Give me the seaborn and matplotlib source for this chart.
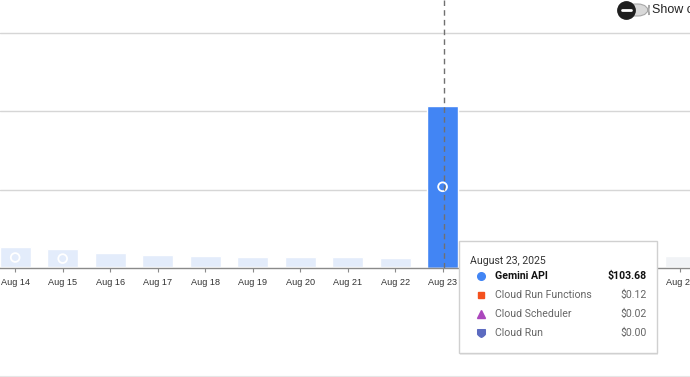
import matplotlib
matplotlib.use("Agg")
import matplotlib.pyplot as plt
import seaborn as sns
from matplotlib.patches import FancyBboxPatch
from matplotlib.path import Path

# data
dates = ['Aug 14', 'Aug 15', 'Aug 16', 'Aug 17', 'Aug 18', 'Aug 19', 'Aug 20',
         'Aug 21', 'Aug 22', 'Aug 23', 'Aug 24', 'Aug 25', 'Aug 26', 'Aug 27', 'Aug 28']
gemini = [13.4, 12.0, 9.6, 8.3, 7.7, 7.0, 7.0, 7.0, 6.4, 103.68, 7.0, 7.0, 7.0, 7.0, 7.7]
run_functions = [0.6] * 9 + [0.0] + [0.6] * 5
hover_days = ['Aug 14', 'Aug 15', 'Aug 23']
selected = 'Aug 23'

tip_title = 'August 23, 2025'
tip_services = ['Gemini API', 'Cloud Run Functions', 'Cloud Scheduler', 'Cloud Run']
tip_costs = ['$103.68', '$0.12', '$0.02', '$0.00']

sns.set_style("white")
plt.rcParams['font.family'] = ['Liberation Sans', 'DejaVu Sans']

W, H = 690, 377
fig = plt.figure(figsize=(W / 100, H / 100), dpi=100)
base_px = 268
ax = fig.add_axes([0, (H - base_px) / H, 1, base_px / H])

bar_colors = ['#4285f4' if d == selected else '#e3ecfb' for d in dates]
bar_colors[-1] = '#f1f3f6'
sns.barplot(x=dates, y=gemini, hue=dates, palette=bar_colors, legend=False,
            width=0.65, saturation=1, ax=ax, zorder=2)
fn_colors = ['#fbe3d3' if d != selected else '#4285f4' for d in dates]
sns.barplot(x=dates, y=run_functions, hue=dates, palette=fn_colors, legend=False,
            width=0.65, saturation=1, ax=ax, zorder=2)

ymax = 150 * base_px / (base_px - 33)
ax.set_ylim(0, ymax)
ax.set_xlim(-0.32, 14.21)
for g in [50, 100, 150]:
    ax.axhline(g, color='#d6d6d6', lw=1, zorder=0)

# hover circles at half height
for d in hover_days:
    i = dates.index(d)
    ax.scatter(i, gemini[i] / 2, s=40, facecolor='none', edgecolor='white',
               linewidth=1.3, zorder=4)

# crosshair
i_sel = dates.index(selected)
ax.axvline(i_sel + 0.04, color='#707070', lw=1, ls=(0, (4, 3)), zorder=5)

ax.set_yticks([])
ax.set_xlabel('')
ax.set_ylabel('')
for s in ['top', 'left', 'right']:
    ax.spines[s].set_visible(False)
ax.spines['bottom'].set_color('#8a8a8a')
ax.spines['bottom'].set_linewidth(1)
ax.tick_params(axis='x', bottom=True, length=3, color='#8a8a8a', labelsize=6.6,
               labelcolor='#333333', pad=4)

# bottom divider line
fig.add_artist(plt.Line2D([0, 1], [0.5 / H, 0.5 / H], color='#e6e6e6', lw=1.5))

# toggle "Show costs"
pill = FancyBboxPatch((624 / W, (H - 16) / H), 25 / W, 12 / H,
                      boxstyle='round,pad=0,rounding_size=0.016',
                      transform=fig.transFigure, facecolor='#d9d9d9',
                      edgecolor='#a8a8a8', lw=0.8, mutation_aspect=W / H)
fig.add_artist(pill)
fig.add_artist(plt.Line2D([626 / W], [(H - 10) / H], marker='o', ms=12.5,
                          color='#1e1e1e', transform=fig.transFigure))
fig.add_artist(plt.Line2D([621.5 / W, 630.5 / W], [(H - 10) / H] * 2,
                          color='white', lw=2, transform=fig.transFigure))
fig.text(652 / W, (H - 10) / H, 'Show costs', fontsize=9, color='#222222',
         va='center', ha='left', family=['Liberation Sans', 'DejaVu Sans'])

# tooltip
tx0, ty0, tw, th = 459, 241, 198, 112
shadow = FancyBboxPatch((tx0 / W + 0.001, (H - ty0 - th - 1.5) / H), tw / W, th / H,
                        boxstyle='square,pad=0', transform=fig.transFigure,
                        facecolor='#00000012', edgecolor='none', zorder=9)
fig.add_artist(shadow)
box = FancyBboxPatch((tx0 / W, (H - ty0 - th) / H), tw / W, th / H,
                     boxstyle='square,pad=0', transform=fig.transFigure,
                     facecolor='white', edgecolor='#d0d0d0', lw=1, zorder=10)
fig.add_artist(box)

tfont = ['Roboto', 'DejaVu Sans']
fig.text(470 / W, (H - 261) / H, tip_title, fontsize=7.6, color='#333333',
         va='center', family=tfont, zorder=11)

shield = Path([(-1, 1), (1, 1), (1, -0.2), (0.6, -0.8), (0, -1), (-0.6, -0.8),
               (-1, -0.2), (-1, 1)],
              [Path.MOVETO, Path.LINETO, Path.LINETO, Path.CURVE3, Path.CURVE3,
               Path.CURVE3, Path.CURVE3, Path.CLOSEPOLY])
markers = [('o', '#4285f4', 5.5), ('s', '#f4511e', 5), ('^', '#ab47bc', 6), (shield, '#5c6bc0', 5.5)]
row_y = [276, 295, 314, 333]
for k, (svc, cost) in enumerate(zip(tip_services, tip_costs)):
    yy = (H - row_y[k]) / H
    m, c, ms = markers[k]
    fig.add_artist(plt.Line2D([481 / W], [yy], marker=m, ms=ms, color=c, lw=0,
                              transform=fig.transFigure, zorder=11))
    bold = k == 0
    fig.text(495 / W, yy, svc, fontsize=7.6, family=tfont, va='center',
             color='#111111' if bold else '#666666',
             fontweight='bold' if bold else 'normal', zorder=11)
    fig.text(647 / W, yy, cost, fontsize=7.6, family=tfont, va='center', ha='right',
             color='#111111' if bold else '#666666',
             fontweight='bold' if bold else 'normal', zorder=11)

fig.savefig('out.png', dpi=100)
